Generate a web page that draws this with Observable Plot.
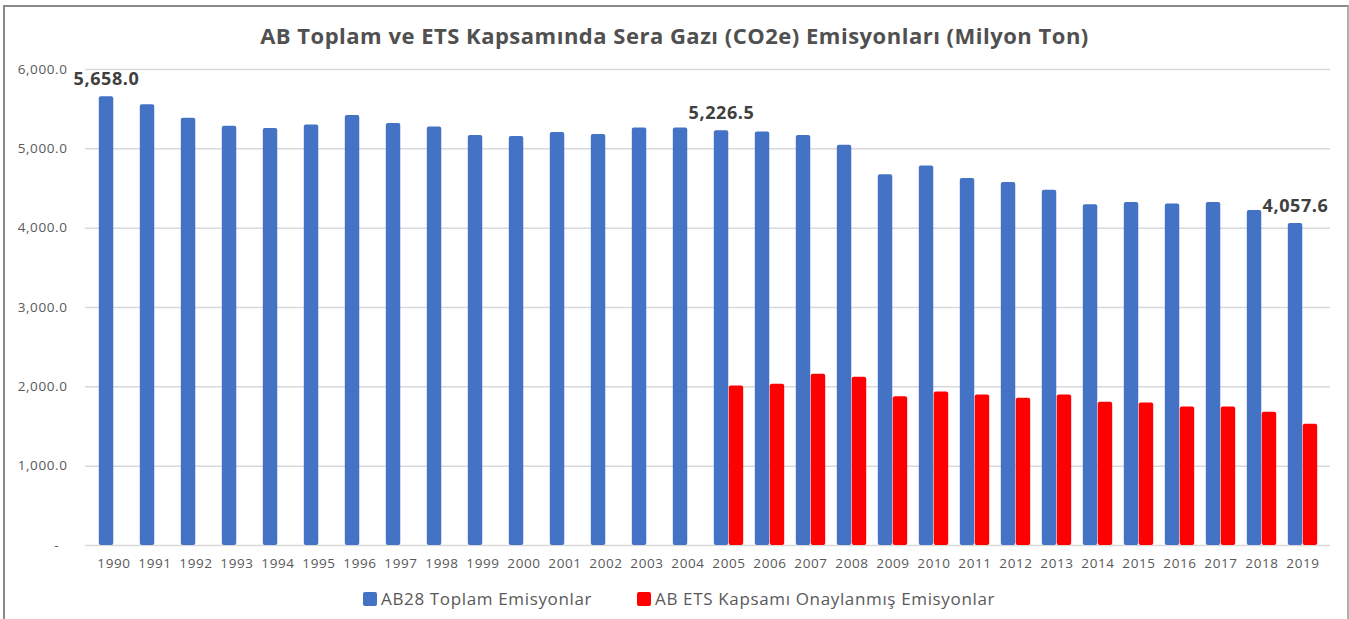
<!DOCTYPE html>
<html>
<head>
<meta charset="utf-8">
<script src="https://cdn.jsdelivr.net/npm/d3@7"></script>
<script src="https://cdn.jsdelivr.net/npm/@observablehq/plot@0.6"></script>
<style>
  html, body { margin: 0; padding: 0; background: #fff; }
  body { width: 1349px; height: 619px; position: relative; overflow: hidden; font-family: "Open Sans", "DejaVu Sans", sans-serif; }
  #frame { position: absolute; left: 3px; top: 5px; width: 1342px; height: 640px; border-left: 2px solid #8a8a8a; border-top: 2px solid #8a8a8a; border-right: 2px solid #b0b0b0; }
  #title { position: absolute; left: 0; top: 21px; width: 1349px; text-align: center; font-size: 22px; letter-spacing: 0.5px; font-weight: bold; color: #505050; line-height: 28px; }
  #chart { position: absolute; left: 0; top: 50px; }
  .legend-item { position: absolute; top: 587px; display: flex; align-items: center; font-size: 17px; color: #595959; letter-spacing: 0.65px; white-space: nowrap; }
  .swatch { width: 14px; height: 14px; border-radius: 2px; margin-right: 4px; }
  #chart svg text { letter-spacing: 0.6px; }
</style>
</head>
<body>
<div id="frame"></div>
<div id="title">AB Toplam ve ETS Kapsamında Sera Gazı (CO2e) Emisyonları (Milyon Ton)</div>
<div id="chart"></div>
<div id="legend"></div>
<script>
// ---- Data ----
const years = ["1990","1991","1992","1993","1994","1995","1996","1997","1998","1999",
               "2000","2001","2002","2003","2004","2005","2006","2007","2008","2009",
               "2010","2011","2012","2013","2014","2015","2016","2017","2018","2019"];
const totalEmissions = [5658.0, 5555, 5386, 5285, 5256, 5301, 5419, 5319, 5276, 5168,
                        5155, 5205, 5180, 5264, 5262, 5226.5, 5213, 5168, 5046, 4672,
                        4785, 4626, 4576, 4479, 4294, 4324, 4306, 4324, 4223, 4057.6];
const etsYears = ["2005","2006","2007","2008","2009","2010","2011","2012","2013","2014",
                  "2015","2016","2017","2018","2019"];
const etsEmissions = [2010, 2032, 2158, 2120, 1876, 1935, 1897, 1855, 1897, 1805,
                      1796, 1746, 1746, 1679, 1528];
const seriesNames = ["AB28 Toplam Emisyonlar", "AB ETS Kapsamı Onaylanmış Emisyonlar"];
const seriesColors = ["#4472c4", "#ff0000"];
const yTicks = [0, 1000, 2000, 3000, 4000, 5000, 6000];
const labelYears = ["1990", "2005", "2019"];

// ---- Build tables ----
const totalRows = years.map((year, i) => ({year, series: seriesNames[0], value: totalEmissions[i]}));
const etsRows = etsYears.map((year, i) => ({year, series: seriesNames[1], value: etsEmissions[i]}));
const labelRows = totalRows.filter(d => labelYears.includes(d.year));
const fmt = d3.format(",.1f");

// ---- Layout (band geometry) ----
const W = 1349, ML = 85, MR = 19;
const band = (W - ML - MR) / years.length;   // width of one year's band
const outer = band * 0.14;                    // gap at each side of the pair
const half = band / 2;
const barW = half - outer;

const chart = Plot.plot({
  width: W,
  height: 528,
  marginTop: 19,
  marginBottom: 33,
  marginLeft: ML,
  marginRight: MR,
  style: {fontFamily: "'Open Sans', sans-serif", fontSize: "13.5px", color: "#595959", background: "transparent", overflow: "visible"},
  x: {domain: years, padding: 0, tickSize: 0, tickPadding: 13, label: null},
  y: {domain: [0, 6000], ticks: yTicks, tickFormat: d => d === 0 ? "-\u2007" : fmt(d), tickSize: 0, tickPadding: 18, label: null},
  color: {domain: seriesNames, range: seriesColors},
  marks: [
    Plot.ruleY(yTicks, {stroke: "#d9d9d9", strokeWidth: 1.5}),
    Plot.barY(totalRows, {x: "year", y: "value", fill: "series", rx: 2, insetLeft: outer, insetRight: half}),
    Plot.barY(etsRows, {x: "year", y: "value", fill: "series", rx: 2, insetLeft: half, insetRight: outer}),
    Plot.text(labelRows, {x: "year", y: "value", text: d => fmt(d.value), dx: -(half - outer - barW / 2), dy: -12, lineAnchor: "bottom", fontWeight: "bold", fontSize: 18, fill: "#404040"})
  ]
});
document.getElementById("chart").appendChild(chart);

// ---- Legend ----
const legend = document.getElementById("legend");
const legendLeft = [363, 637];
seriesNames.forEach((name, i) => {
  const item = document.createElement("div");
  item.className = "legend-item";
  item.style.left = legendLeft[i] + "px";
  const sw = document.createElement("div");
  sw.className = "swatch";
  sw.style.background = seriesColors[i];
  const label = document.createElement("span");
  label.textContent = name;
  item.appendChild(sw);
  item.appendChild(label);
  legend.appendChild(item);
});
</script>
</body>
</html>
